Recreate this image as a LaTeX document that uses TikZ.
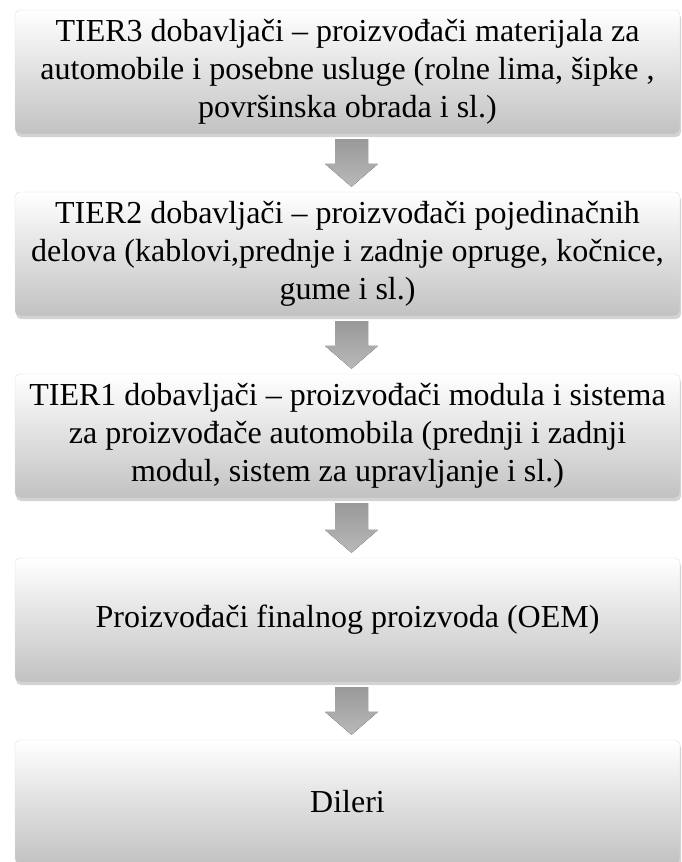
\documentclass[tikz,border=0pt]{standalone}
\usepackage{fontspec}
\setmainfont{Liberation Serif}
\usetikzlibrary{shadows}

\begin{document}
\begin{tikzpicture}[x=1pt,y=1pt,
  tierbox/.style={rounded corners=5pt, draw=gray!25, top color=white, bottom color=gray!48,
    minimum width=665pt, minimum height=124pt, align=center, inner sep=0pt,
    font=\fontsize{32}{38}\selectfont,
    drop shadow={shadow xshift=1pt, shadow yshift=-3pt, opacity=0.35}},
  downarrow/.style={top color=gray!80, bottom color=gray!55, draw=none}]

  \useasboundingbox (0,0) rectangle (682,-862);

  \node[tierbox] (b1) at (347.5,-72) {TIER3 dobavljači – proizvođači materijala za\\
    automobile i posebne usluge (rolne lima, šipke ,\\ površinska obrada i sl.)};
  \node[tierbox] (b2) at (347.5,-254) {TIER2 dobavljači – proizvođači pojedinačnih\\
    delova (kablovi,prednje i zadnje opruge, kočnice,\\ gume i sl.)};
  \node[tierbox] (b3) at (347.5,-436) {TIER1 dobavljači – proizvođači modula i sistema\\
    za proizvođače automobila (prednji i zadnji\\ modul, sistem za upravljanje i sl.)};
  \node[tierbox] (b4) at (347.5,-620) {Proizvođači finalnog proizvoda (OEM)};
  \node[tierbox] (b5) at (347.5,-802) {Dileri};

  % block arrows between the boxes
  \foreach \a/\b in {b1/b2, b2/b3, b3/b4, b4/b5} {
    \coordinate (top) at ([xshift=4pt,yshift=-5pt]\a.south);
    \coordinate (tip) at ([xshift=4pt,yshift=5pt]\b.north);
    \fill[downarrow] ([xshift=-16.5pt]top) -- ([xshift=16.5pt]top)
      -- ([xshift=16.5pt,yshift=23pt]tip) -- ([xshift=26.5pt,yshift=23pt]tip)
      -- (tip) -- ([xshift=-26.5pt,yshift=23pt]tip)
      -- ([xshift=-16.5pt,yshift=23pt]tip) -- cycle;
  }
\end{tikzpicture}
\end{document}
